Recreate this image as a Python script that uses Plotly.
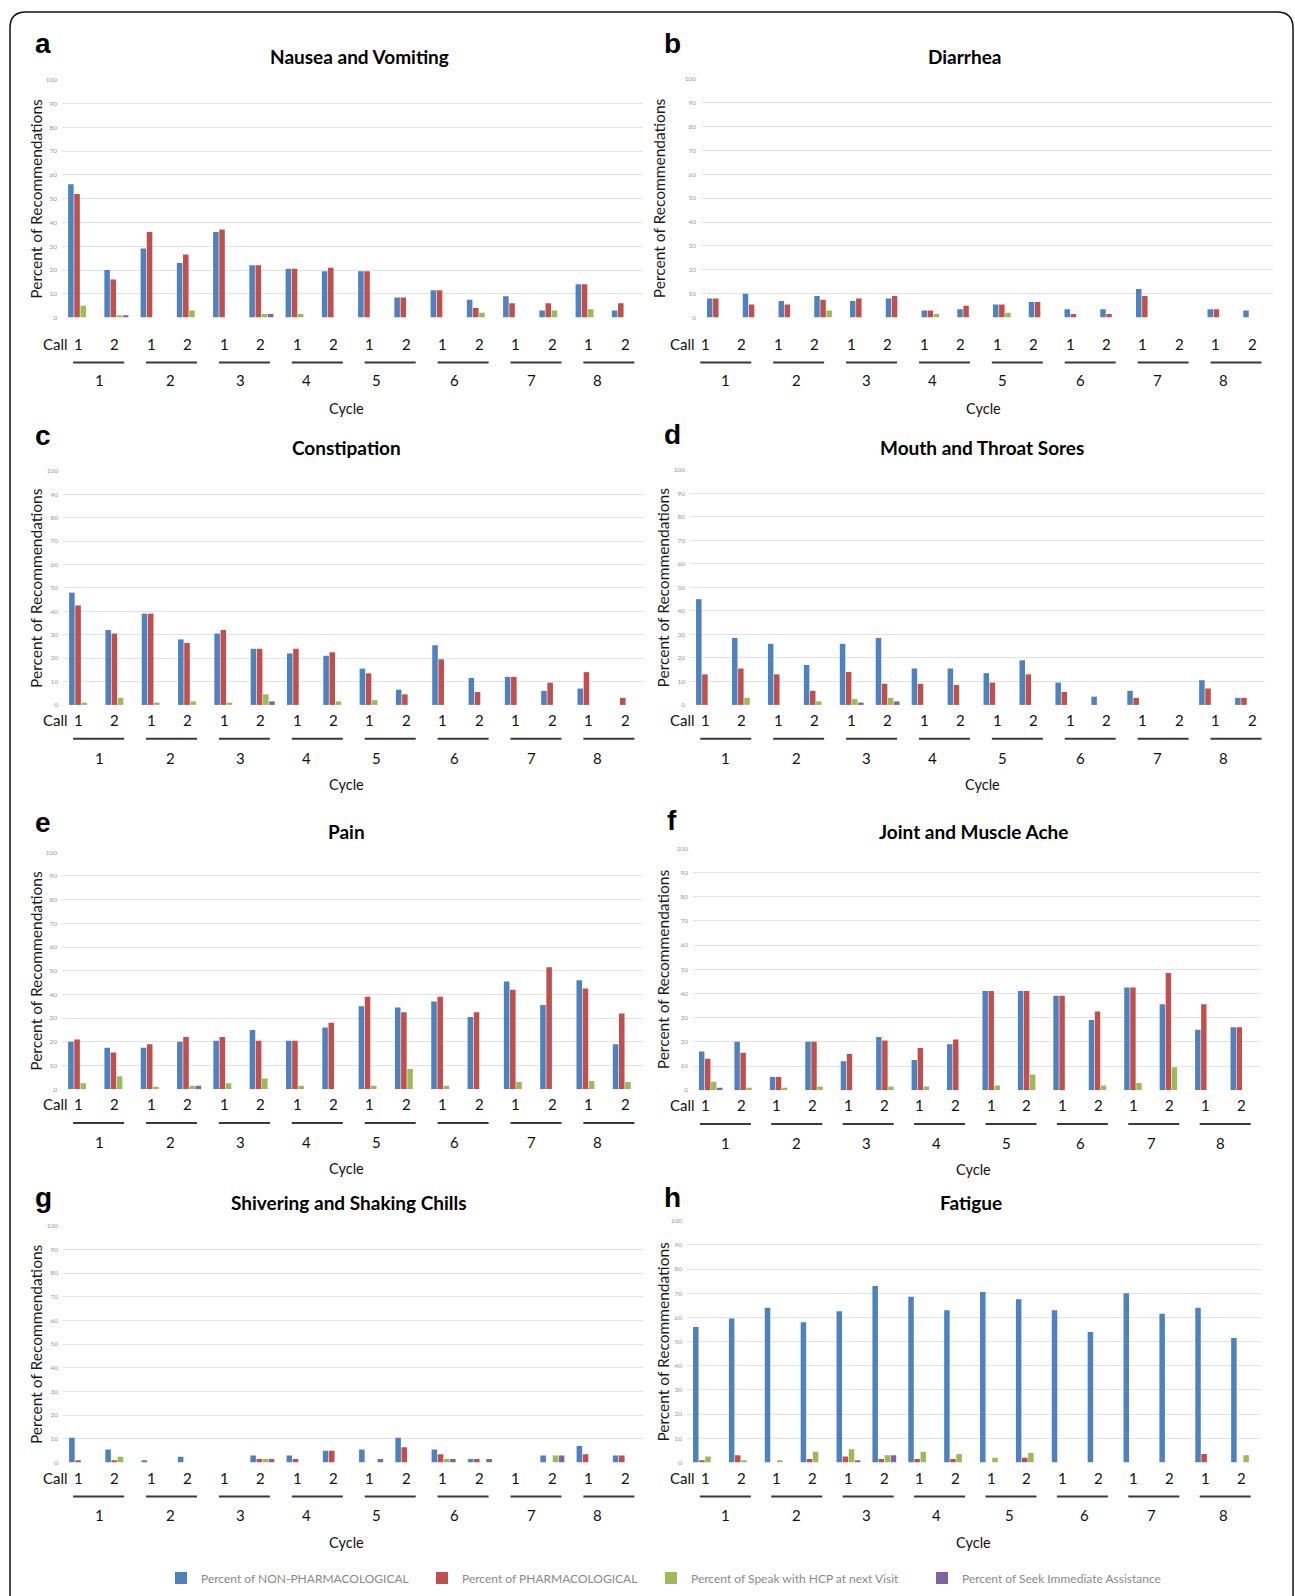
import plotly.graph_objects as go

# ---------------- data ----------------
CALLS = ["1", "2"] * 8
CYCLES = ["1", "2", "3", "4", "5", "6", "7", "8"]
SERIES = ["Percent of NON-PHARMACOLOGICAL", "Percent of PHARMACOLOGICAL",
          "Percent of Speak with HCP at next Visit", "Percent of Seek Immediate Assistance"]
TITLES = ["Nausea and Vomiting", "Diarrhea", "Constipation", "Mouth and Throat Sores",
          "Pain", "Joint and Muscle Ache", "Shivering and Shaking Chills", "Fatigue"]
LETTERS = ["a", "b", "c", "d", "e", "f", "g", "h"]

NV_NON = [56, 20, 29, 23, 36, 22, 20.5, 19.5, 19.5, 8.5, 11.5, 7.5, 9, 3, 14, 3]
NV_PH = [52, 16, 36, 26.5, 37, 22, 20.5, 21, 19.5, 8.5, 11.5, 4, 6, 6, 14, 6]
NV_HCP = [5, 1, 0, 3, 0, 1.5, 1.5, 0, 0, 0, 0, 2, 0, 3, 3.5, 0]
NV_SEEK = [0, 1, 0, 0, 0, 1.5, 0, 0, 0, 0, 0, 0, 0, 0, 0, 0]

DI_NON = [8, 10, 7, 9, 7, 8, 3, 3.5, 5.5, 6.5, 3.5, 3.5, 12, 0, 3.5, 3]
DI_PH = [8, 5.5, 5.5, 7.5, 8, 9, 3, 5, 5.5, 6.5, 1.5, 1.5, 9, 0, 3.5, 0]
DI_HCP = [0, 0, 0, 3, 0, 0, 1.5, 0, 2, 0, 0, 0, 0, 0, 0, 0]
DI_SEEK = [0, 0, 0, 0, 0, 0, 0, 0, 0, 0, 0, 0, 0, 0, 0, 0]

CO_NON = [48, 32, 39, 28, 30.5, 24, 22, 21, 15.5, 6.5, 25.5, 11.5, 12, 6, 7, 0]
CO_PH = [42.5, 30.5, 39, 26.5, 32, 24, 24, 22.5, 13.5, 4.5, 19.5, 5.5, 12, 9.5, 14, 3]
CO_HCP = [1, 3, 1, 1.5, 1, 4.5, 0, 1.5, 2, 0, 0, 0, 0, 0, 0, 0]
CO_SEEK = [0, 0, 0, 0, 0, 1.5, 0, 0, 0, 0, 0, 0, 0, 0, 0, 0]

MT_NON = [45, 28.5, 26, 17, 26, 28.5, 15.5, 15.5, 13.5, 19, 9.5, 3.5, 6, 0, 10.5, 3]
MT_PH = [13, 15.5, 13, 6, 14, 9, 9, 8.5, 9.5, 13, 5.5, 0, 3, 0, 7, 3]
MT_HCP = [0, 3, 0, 1.5, 2.5, 3, 0, 0, 0, 0, 0, 0, 0, 0, 0, 0]
MT_SEEK = [0, 0, 0, 0, 1, 1.5, 0, 0, 0, 0, 0, 0, 0, 0, 0, 0]

PA_NON = [20, 17.5, 17.5, 20, 20.5, 25, 20.5, 26, 35, 34.5, 37, 30.5, 45.5, 35.5, 46, 19]
PA_PH = [21, 15.5, 19, 22, 22, 20.5, 20.5, 28, 39, 32.5, 39, 32.5, 42, 51.5, 42.5, 32]
PA_HCP = [2.5, 5.5, 1, 1.5, 2.5, 4.5, 1.5, 0, 1.5, 8.5, 1.5, 0, 3, 0, 3.5, 3]
PA_SEEK = [0, 0, 0, 1.5, 0, 0, 0, 0, 0, 0, 0, 0, 0, 0, 0, 0]

JM_NON = [16, 20, 5.5, 20, 12, 22, 12.5, 19, 41, 41, 39, 29, 42.5, 35.5, 25, 26]
JM_PH = [13, 15.5, 5.5, 20, 15, 20.5, 17.5, 21, 41, 41, 39, 32.5, 42.5, 48.5, 35.5, 26]
JM_HCP = [3.5, 1, 1, 1.5, 0, 1.5, 1.5, 0, 2, 6.5, 0, 2, 3, 9.5, 0, 0]
JM_SEEK = [1, 0, 0, 0, 0, 0, 0, 0, 0, 0, 0, 0, 0, 0, 0, 0]

SH_NON = [10.5, 5.5, 1, 2.5, 0, 3, 3, 5, 5.5, 10.5, 5.5, 1.5, 0, 3, 7, 3]
SH_PH = [1, 1, 0, 0, 0, 1.5, 1.5, 5, 0, 6.5, 3.5, 1.5, 0, 0, 3.5, 3]
SH_HCP = [0, 2.5, 0, 0, 0, 1.5, 0, 0, 0, 0, 1.5, 0, 0, 3, 0, 0]
SH_SEEK = [0, 0, 0, 0, 0, 1.5, 0, 0, 1.5, 0, 1.5, 1.5, 0, 3, 0, 0]

FA_NON = [56, 59.5, 64, 58, 62.5, 73, 68.5, 63, 70.5, 67.5, 63, 54, 70, 61.5, 64, 51.5]
FA_PH = [1, 3, 0, 1.5, 2.5, 1.5, 1.5, 1.5, 0, 2, 0, 0, 0, 0, 3.5, 0]
FA_HCP = [2.5, 1, 1, 4.5, 5.5, 3, 4.5, 3.5, 2, 4, 0, 0, 0, 0, 0, 3]
FA_SEEK = [0, 0, 0, 0, 1, 3, 0, 0, 0, 0, 0, 0, 0, 0, 0, 0]

PANEL_DATA = [
    [NV_NON, NV_PH, NV_HCP, NV_SEEK],
    [DI_NON, DI_PH, DI_HCP, DI_SEEK],
    [CO_NON, CO_PH, CO_HCP, CO_SEEK],
    [MT_NON, MT_PH, MT_HCP, MT_SEEK],
    [PA_NON, PA_PH, PA_HCP, PA_SEEK],
    [JM_NON, JM_PH, JM_HCP, JM_SEEK],
    [SH_NON, SH_PH, SH_HCP, SH_SEEK],
    [FA_NON, FA_PH, FA_HCP, FA_SEEK],
]

# ---------------- style / layout ----------------
W, H = 1295, 1596
S = 1295 / 1272  # reference measurement scale
COLORS = ["#4F81BD", "#C0504D", "#9BBB59", "#8064A2"]
FONT = "Lato"


def fx(p):
    return p / W


def fy(p):
    return 1 - p / H


# plot boxes in pixels: x0, x1, ytop(100), ybottom(0)
BOXES = [
    (62, 642, 76, 315), (701, 1273, 75, 315),
    (63, 644, 469, 704), (690, 1265, 468, 704),
    (62, 643, 852, 1090), (693, 1260, 848, 1091),
    (63, 643, 1227, 1465), (687, 1261, 1222, 1465),
]
# offsets below baseline: call row, underline, cycle numbers, "Cycle"
OFFS = [(26, 45, 63, 91)] * 2 + [(15, 34, 53, 80)] * 6
TITLE_POS = [(359, 53), (964, 53), (347, 445), (982, 445),
             (347, 831), (973, 831), (349, 1204), (971, 1204)]
LETTER_POS = [(43, 40), (672, 40), (43, 433), (672, 432),
              (43, 822), (672, 820), (43, 1199), (672, 1199)]
YTITLE_X = [36, 659, 36, 663, 36, 663, 36, 663]
CALL_X = [55, 682, 55, 682, 55, 682, 55, 682]
CYCLE_X = [347, 983, 347, 982, 347, 973, 347, 973]
# label row placement (first / last call label, cycle label x) in reference pixels
CALL_SPAN = [(77, 614), (693, 1230), (77, 614), (693, 1230),
             (77, 614), (693, 1219), (77, 614), (693, 1219)]
CYC_LEFT = [98, 167, 236, 301, 370, 446, 522, 587]
CYC_BD = [713, 782, 851, 916, 985, 1061, 1137, 1202]
CYC_F = [713, 782, 851, 920, 989, 1061, 1131, 1199]
CYC_H = [713, 782, 851, 920, 992, 1065, 1131, 1202]
CYC_X = [CYC_LEFT, CYC_BD, CYC_LEFT, CYC_BD, CYC_LEFT, CYC_F, CYC_LEFT, CYC_H]

fig = go.Figure()
annotations = []
shapes = []
positions = list(range(len(CALLS)))
layout_axes = {}

for i in range(8):
    n = i + 1
    xa = "x" if n == 1 else f"x{n}"
    ya = "y" if n == 1 else f"y{n}"
    x0, x1, yt, yb = BOXES[i]
    for s in range(4):
        fig.add_trace(go.Bar(
            x=positions, y=PANEL_DATA[i][s], name=SERIES[s],
            marker=dict(color=COLORS[s], line=dict(width=0)),
            xaxis=xa, yaxis=ya,
            showlegend=(i == 0),
            legend="legend" if s == 0 else f"legend{s + 1}",
        ))
    layout_axes["xaxis" if n == 1 else f"xaxis{n}"] = dict(
        domain=[fx(x0), fx(x1)], anchor=ya, range=[-0.5, len(CALLS) - 0.5],
        showticklabels=False, showgrid=False, zeroline=False, showline=False, ticks="",
    )
    layout_axes["yaxis" if n == 1 else f"yaxis{n}"] = dict(
        domain=[fy(yb), fy(yt)], anchor=xa, range=[0, 100], dtick=10,
        showgrid=True, gridcolor="#E3E3E3", gridwidth=1, zeroline=False, showline=False,
        ticks="", tickfont=dict(size=6.5, color="#999999", family=FONT), ticklabelstandoff=4,
    )
    # title and panel letter
    tx, ty = TITLE_POS[i]
    annotations.append(dict(text=f"<b>{TITLES[i]}</b>", x=fx(tx), y=fy(ty), xref="paper", yref="paper",
                            showarrow=False, xanchor="center", yanchor="middle",
                            font=dict(size=19, color="#000", family=FONT)))
    lx, ly = LETTER_POS[i]
    annotations.append(dict(text=f"<b>{LETTERS[i]}</b>", x=fx(lx), y=fy(ly), xref="paper", yref="paper",
                            showarrow=False, xanchor="center", yanchor="middle",
                            font=dict(size=28, color="#000", family="Liberation Sans")))
    # y-axis title
    annotations.append(dict(text="Percent of Recommendations", x=fx(YTITLE_X[i]), y=fy((yt + yb) / 2),
                            xref="paper", yref="paper", textangle=-90, showarrow=False,
                            xanchor="center", yanchor="middle",
                            font=dict(size=15.5, color="#1a1a1a", family=FONT)))
    oc, ou, ocy, ot = OFFS[i]
    # call row
    annotations.append(dict(text="Call", x=fx(CALL_X[i]), y=fy(yb + oc), xref="paper", yref="paper",
                            showarrow=False, xanchor="center", yanchor="middle",
                            font=dict(size=15, color="#111", family=FONT)))
    cf, cl = CALL_SPAN[i]
    step = (cl - cf) / (len(CALLS) - 1)
    call_px = [(cf + step * k) * S for k in range(len(CALLS))]
    for k, lab in enumerate(CALLS):
        annotations.append(dict(text=lab, x=fx(call_px[k]), y=fy(yb + oc), xref="paper", yref="paper",
                                showarrow=False, xanchor="center", yanchor="middle",
                                font=dict(size=15, color="#111", family=FONT)))
    # cycles
    for c, lab in enumerate(CYCLES):
        mid = (call_px[2 * c] + call_px[2 * c + 1]) / 2 + 2
        shapes.append(dict(type="line", xref="paper", yref="paper", x0=fx(mid - 25.5), x1=fx(mid + 25.5),
                           y0=fy(yb + ou), y1=fy(yb + ou), line=dict(color="#3a3a3a", width=2)))
        annotations.append(dict(text=lab, x=fx(CYC_X[i][c] * S), y=fy(yb + ocy), xref="paper", yref="paper",
                                showarrow=False, xanchor="center", yanchor="middle",
                                font=dict(size=15, color="#111", family=FONT)))
    annotations.append(dict(text="Cycle", x=fx(CYCLE_X[i]), y=fy(yb + ot), xref="paper", yref="paper",
                            showarrow=False, xanchor="center", yanchor="middle",
                            font=dict(size=14.5, color="#111", family=FONT)))

# rounded outer border
bx0, by0, bx1, by1, r = 10, 8, 1293, 1640, 16


def P(x, y):
    return f"{fx(x):.5f},{fy(y):.5f}"


path = (f"M{P(bx0 + r, by0)} L{P(bx1 - r, by0)} Q{P(bx1, by0)} {P(bx1, by0 + r)} "
        f"L{P(bx1, by1 - r)} Q{P(bx1, by1)} {P(bx1 - r, by1)} L{P(bx0 + r, by1)} "
        f"Q{P(bx0, by1)} {P(bx0, by1 - r)} L{P(bx0, by0 + r)} Q{P(bx0, by0)} {P(bx0 + r, by0)} Z")
shapes.append(dict(type="path", path=path, xref="paper", yref="paper",
                   line=dict(color="#111", width=1.5)))

# legends (one per series)
LEG_X = [161, 422, 651, 922]
legs = {}
for s in range(4):
    key = "legend" if s == 0 else f"legend{s + 1}"
    legs[key] = dict(x=fx(LEG_X[s]), y=fy(1581), xanchor="left", yanchor="middle",
                     orientation="h", bgcolor="rgba(0,0,0,0)", itemwidth=30,
                     font=dict(size=12, color="#8a8a8a", family=FONT))

fig.update_layout(
    width=W, height=H, autosize=False,
    margin=dict(l=0, r=0, t=0, b=0),
    paper_bgcolor="white", plot_bgcolor="white",
    barmode="group", bargap=0.32, bargroupgap=0.1,
    annotations=annotations, shapes=shapes,
    **layout_axes, **legs,
)

fig.write_html("out.html", config={"displayModeBar": False},
               post_script="document.body.style.margin='0';document.body.style.padding='0';")
